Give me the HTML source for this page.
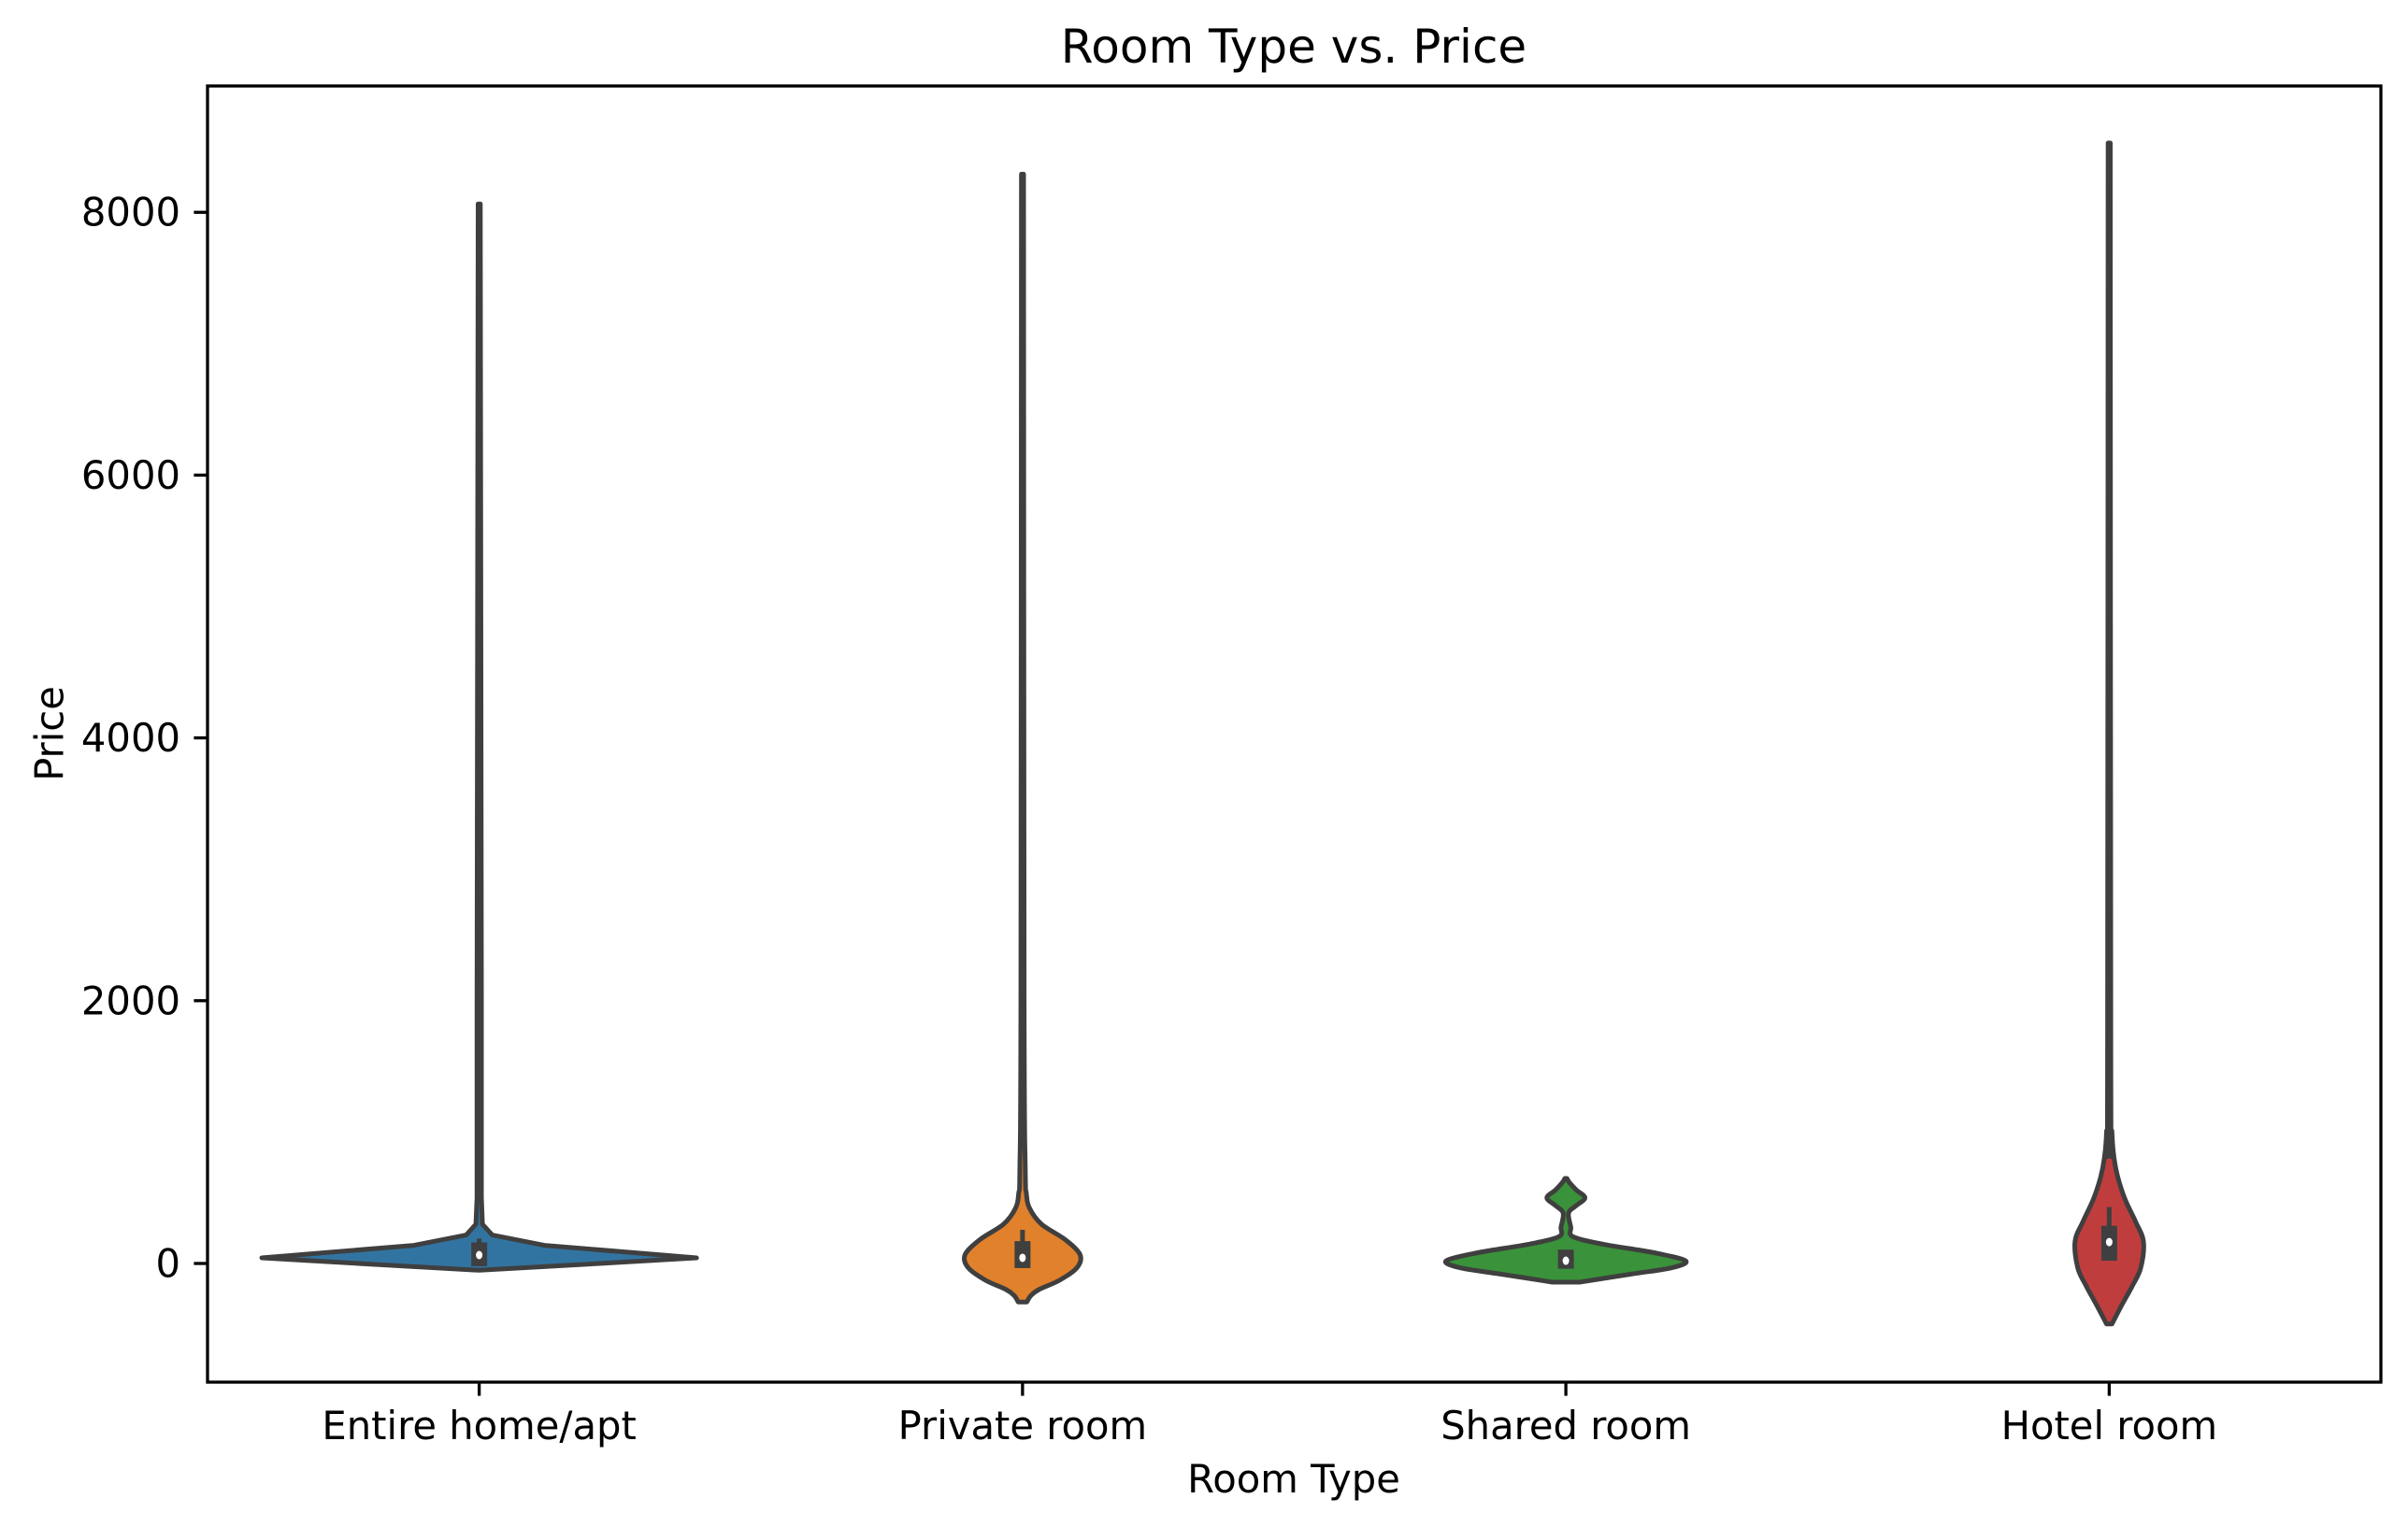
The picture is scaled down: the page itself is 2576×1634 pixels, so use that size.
<!DOCTYPE html>
<html><head><meta charset="utf-8"><style>
html,body{margin:0;padding:0;background:#fff;}
svg{display:block;font-family:"DejaVu Sans","Liberation Sans",sans-serif;}
</style></head><body>
<svg id="chart" width="2576" height="1634" viewBox="0 0 2576 1634" xmlns="http://www.w3.org/2000/svg">
<rect x="0" y="0" width="2576" height="1634" fill="#fff"/>
<text x="1384" y="67" text-anchor="middle" font-size="50" fill="#000">Room Type vs. Price</text>
<g id="plot"></g>
<text x="1384" y="1597" text-anchor="middle" font-size="41.7" fill="#000">Room Type</text>
<text transform="translate(53,785) rotate(-90)" text-anchor="middle" dominant-baseline="central" font-size="41.7" fill="#000">Price</text>
</svg>
<script>
const categories = ["Entire home/apt", "Private room", "Shared room", "Hotel room"];
const yTicks = [0, 2000, 4000, 6000, 8000];
const colors = ["#3274a1", "#e1812c", "#3a923a", "#c03d3e"];
// violin outlines: price points and half-width (category units)
const entirePrices = [-52, -5, 43, 138, 216, 299, 500, 2000, 8064];
const entireWidths = [0, 0.2, 0.40, 0.12, 0.024, 0.006, 0.004, 0.004, 0.002];
const privatePrices = [-293, -246, -199, -128, -33, 66, 180, 299, 420, 536, 725, 2000, 8290];
const privateWidths = [0.008, 0.015, 0.03, 0.068, 0.10, 0.106, 0.079, 0.035, 0.013, 0.007, 0.005, 0.003, 0.002];
const sharedPrices = [-142, -81, -33, 21, 85, 145, 204, 277, 384, 440, 500, 560, 619, 647];
const sharedWidths = [0.025, 0.12, 0.195, 0.22, 0.158, 0.07, 0.013, 0.009, 0.005, 0.019, 0.035, 0.019, 0.006, 0.002];
const hotelPrices = [-460, -318, -175, -33, 168, 322, 490, 654, 800, 1000, 1500, 8528];
const hotelWidths = [0.005, 0.023, 0.042, 0.058, 0.063, 0.048, 0.029, 0.016, 0.009, 0.005, 0.003, 0.002];
const q1 = [-20, -35, -40, 21];
const q3 = [160, 170, 105, 287];
const medians = [64, 43, 21, 163];
const whiskerLow = [-20, -35, -40, 21];
const whiskerHigh = [190, 256, 105, 429];

const smoothShape = [false, true, true, true];
const L = 222, R = 2547, T = 92, B = 1479;
const xMin = -0.5, xMax = 3.5;
const xs = v => L + (v - xMin) / (xMax - xMin) * (R - L);
const ys = v => 1352 - v * 0.1406;
const NS = "http://www.w3.org/2000/svg";
const plot = document.getElementById('plot');
function mk(tag, attrs, parent) {
  const e = document.createElementNS(NS, tag);
  for (const k in attrs) e.setAttribute(k, attrs[k]);
  (parent || plot).appendChild(e);
  return e;
}
function f(n) { return n.toFixed(1); }
function curve(pts, smooth) {
  let d = '';
  for (let j = 1; j < pts.length; j++) {
    if (!smooth) { d += ' L' + f(pts[j][0]) + ',' + f(pts[j][1]); continue; }
    const p0 = pts[Math.max(j - 2, 0)], p1 = pts[j - 1], p2 = pts[j], p3 = pts[Math.min(j + 1, pts.length - 1)];
    const c1 = [p1[0] + (p2[0] - p0[0]) / 6, p1[1] + (p2[1] - p0[1]) / 6];
    const c2 = [p2[0] - (p3[0] - p1[0]) / 6, p2[1] - (p3[1] - p1[1]) / 6];
    d += ' C' + f(c1[0]) + ',' + f(c1[1]) + ' ' + f(c2[0]) + ',' + f(c2[1]) + ' ' + f(p2[0]) + ',' + f(p2[1]);
  }
  return d;
}
const shapes = [[entirePrices, entireWidths], [privatePrices, privateWidths], [sharedPrices, sharedWidths], [hotelPrices, hotelWidths]];
shapes.forEach((s, i) => {
  const [p, w] = s;
  const left = [], right = [];
  for (let j = 0; j < p.length; j++) left.push([xs(i - w[j]), ys(p[j])]);
  for (let j = p.length - 1; j >= 0; j--) right.push([xs(i + w[j]), ys(p[j])]);
  const d = 'M' + f(left[0][0]) + ',' + f(left[0][1]) + curve(left, smoothShape[i]) +
    ' L' + f(right[0][0]) + ',' + f(right[0][1]) + curve(right, smoothShape[i]) + ' Z';
  const v = mk('path', {d: d, fill: colors[i], stroke: '#3f3f3f', 'stroke-width': 5, 'stroke-linejoin': 'round'});
  
  
  const wl = mk('line', {x1: xs(i), x2: xs(i), y1: ys(whiskerLow[i]), y2: ys(whiskerHigh[i]), stroke: '#3f3f3f', 'stroke-width': 5});
  
  
  const bx = mk('rect', {x: xs(i) - 8.5, y: ys(q3[i]), width: 17, height: ys(q1[i]) - ys(q3[i]), fill: '#3f3f3f'});
  
  
  const md = mk('ellipse', {cx: xs(i), cy: ys(medians[i]), rx: 3.5, ry: 4.5, fill: '#fff'});
  
  
  const tk = mk('line', {x1: xs(i), x2: xs(i), y1: B, y2: B + 14.6, stroke: '#000', 'stroke-width': 3.3});
  
  
  const tl = mk('text', {x: xs(i), y: 1540, 'text-anchor': 'middle', 'font-size': 41.7, fill: '#000'});
  tl.textContent = categories[i];
  
  
});
yTicks.forEach(t => {
  const tk = mk('line', {x1: L - 14.6, x2: L, y1: ys(t), y2: ys(t), stroke: '#000', 'stroke-width': 3.3});
  
  
  const tl = mk('text', {x: 193, y: ys(t), 'text-anchor': 'end', 'dominant-baseline': 'central', 'font-size': 41.7, fill: '#000'});
  tl.textContent = t;
  
  
});
const frame = mk('rect', {x: L, y: T, width: R - L, height: B - T, fill: 'none', stroke: '#000', 'stroke-width': 3.3});


</script>
</body></html>
